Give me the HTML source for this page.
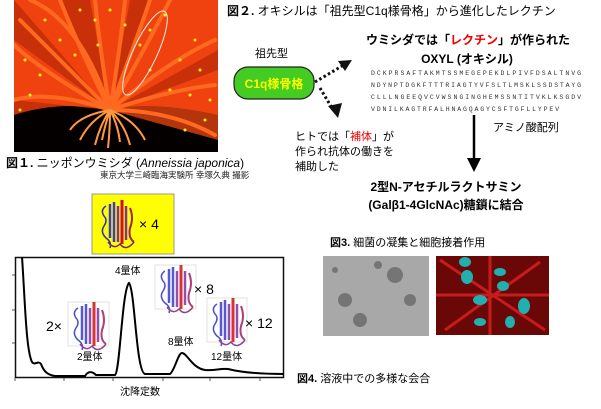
<!DOCTYPE html>
<html><head><meta charset="utf-8"><style>
body{margin:0;width:601px;height:404px;background:#fff;overflow:hidden;font-family:"Liberation Sans","Noto Sans CJK JP",sans-serif;}
svg text{font-family:"Liberation Sans","Noto Sans CJK JP",sans-serif;}
</style></head><body>
<svg width="601" height="404" viewBox="0 0 601 404" xmlns="http://www.w3.org/2000/svg">
<defs>
<g id="prot">
<path d="M6 6 q-6 4 -2 10 q4 4 0 10 q-4 6 2 12 q6 4 4 10" stroke="#3030c0" stroke-width="1.5" fill="none"/>
<path d="M10 4 v34 M14 2 v40" stroke="#3a3ad0" stroke-width="2.5" fill="none"/>
<path d="M18 6 v36 M26 6 v34" stroke="#8030a0" stroke-width="2.5" fill="none"/>
<path d="M22 0 v44" stroke="#d01010" stroke-width="3" fill="none"/>
<path d="M30 8 q4 10 0 20 q-2 10 4 14" stroke="#a02060" stroke-width="2" fill="none"/>
<path d="M8 42 q6 8 12 2 q6 8 14 -2" stroke="#802080" stroke-width="1.5" fill="none"/>
</g>
<clipPath id="pc"><rect x="14" y="0" width="204" height="152"/></clipPath>
</defs>
<!-- photo -->
<rect x="14" y="0" width="204" height="152" fill="#050000"/>
<g clip-path="url(#pc)">
<path d="M14 0 H218 V115 Q150 100 110 110 Q60 100 14 115 Z" fill="#c8300a"/>
<path d="M14 0 L60 0 L110 110 Z M90 0 L130 0 L110 110 Z M150 0 L218 0 L218 50 L110 110 Z M14 40 L14 100 L110 110 Z M218 70 L218 140 L110 110 Z" fill="#ff4a10" opacity=".7"/>
<g stroke="#ff6a20" stroke-width="4" fill="none" stroke-linecap="round">
<path d="M110 110 Q60 60 20 20"/><path d="M110 110 Q80 50 60 0"/><path d="M110 110 Q100 50 95 0"/>
<path d="M110 110 Q120 50 125 0"/><path d="M110 110 Q150 40 170 0"/><path d="M110 110 Q170 60 215 40"/>
<path d="M110 110 Q170 90 215 85"/><path d="M110 110 Q170 110 215 135"/><path d="M110 110 Q50 90 14 100"/>
<path d="M110 110 Q40 70 14 45"/><path d="M110 110 Q140 30 150 0"/><path d="M110 110 Q80 20 30 0"/>
</g>
<g stroke="#ff9a40" stroke-width="2" fill="none">
<path d="M110 110 q-20 10 -30 30"/><path d="M110 110 q-10 15 -15 35"/><path d="M110 110 q0 20 -2 38"/>
<path d="M110 110 q15 15 20 35"/><path d="M110 110 q25 10 35 30"/><path d="M110 110 q-30 5 -40 20"/>
<path d="M110 110 q-5 15 -8 30"/><path d="M110 110 q8 15 10 32"/>
</g>
</g>
<g fill="#ffee20">
<circle cx="45" cy="20" r="1.5"/><circle cx="60" cy="40" r="1.5"/><circle cx="75" cy="55" r="1.5"/><circle cx="95" cy="20" r="1.5"/>
<circle cx="98" cy="45" r="1.5"/><circle cx="125" cy="25" r="1.5"/><circle cx="150" cy="30" r="1.5"/><circle cx="165" cy="15" r="1.5"/>
<circle cx="180" cy="60" r="1.5"/><circle cx="200" cy="70" r="1.5"/><circle cx="190" cy="95" r="1.5"/><circle cx="205" cy="120" r="1.5"/>
<circle cx="30" cy="95" r="1.5"/><circle cx="25" cy="60" r="1.5"/><circle cx="40" cy="75" r="1.5"/><circle cx="170" cy="90" r="1.5"/>
<circle cx="150" cy="70" r="1.5"/><circle cx="140" cy="45" r="1.5"/><circle cx="110" cy="10" r="1.5"/><circle cx="80" cy="10" r="1.5"/>
<circle cx="195" cy="40" r="1.5"/><circle cx="210" cy="100" r="1.5"/><circle cx="20" cy="110" r="1.5"/><circle cx="185" cy="130" r="1.5"/>
</g>
<ellipse cx="145" cy="53" rx="12" ry="46" transform="rotate(25 145 53)" fill="none" stroke="#eee" stroke-width="1"/>
<text x="6" y="167" font-size="12"><tspan font-weight="bold">図１.</tspan> ニッポンウミシダ (<tspan font-style="italic">Anneissia japonica</tspan>)</text>
<text x="100" y="178" font-size="8.5" fill="#222">東京大学三崎臨海実験所 幸塚久典 撮影</text>
<!-- yellow box -->
<rect x="92" y="194" width="82" height="60" fill="#ffff00" stroke="#999"/>
<use href="#prot" x="100" y="200"/>
<text x="139" y="229" font-size="14">× 4</text>
<!-- chart -->
<rect x="15.5" y="257.5" width="268" height="120" fill="none" stroke="#111" stroke-width="1.5"/>
<g stroke="#555" stroke-width="1"><path d="M15 275h-3M15 310h-3M15 343h-3M15 378v3M64 378v3M113 378v3M163 378v3M210 378v3M260 378v3"/></g>
<g opacity=".85">
<rect x="68" y="302" width="41" height="44" fill="#fff" stroke="#ddd"/><use href="#prot" x="72" y="302"/>
<rect x="155" y="265" width="41" height="44" fill="#fff" stroke="#ddd"/><use href="#prot" x="159" y="265"/>
<rect x="207" y="298" width="40" height="44" fill="#fff" stroke="#ddd"/><use href="#prot" x="211" y="298"/>
</g>
<path d="M22 257 C25 300 26 350 32 362 C35 366 38 360 41 364 C44 372 48 375 55 376 L85 376 C88 371 92 371 96 375 L115 375 C120 372 122 290 129 283 C135 290 136 372 145 374 L170 374 C175 370 178 353 182 353 C187 353 192 368 205 370 C215 371 220 368 228 369 C240 372 260 374 284 374" fill="none" stroke="#000" stroke-width="2"/>
<text x="115" y="274" font-size="10">4量体</text>
<text x="77" y="360" font-size="10">2量体</text>
<text x="168" y="345" font-size="10">8量体</text>
<text x="211" y="360" font-size="10">12量体</text>
<text x="46" y="331" font-size="14">2×</text>
<text x="194" y="294" font-size="14">× 8</text>
<text x="245" y="328" font-size="14">× 12</text>
<text x="120" y="395" font-size="10">沈降定数</text>
<!-- fig2 -->
<text x="227" y="15" font-size="12"><tspan font-weight="bold">図２.</tspan> オキシルは「祖先型C1q様骨格」から進化したレクチン</text>
<text x="255" y="57" font-size="11">祖先型</text>
<rect x="234" y="67" width="80" height="32" rx="14" fill="#44cc22" stroke="#222" stroke-width="1.2"/>
<text x="274" y="88" font-size="12" font-weight="bold" fill="#ffff00" text-anchor="middle">C1q様骨格</text>
<g stroke="#111" stroke-width="3" stroke-dasharray="2.5 2.5" fill="none"><path d="M315 82 L342 66"/><path d="M320 88 L332 108"/></g>
<path d="M352 60 L338 61 L345 71 Z" fill="#111"/>
<path d="M338 118 L328 106 L342 103 Z" fill="#111"/>
<text x="295" y="140" font-size="11">ヒトでは「<tspan fill="#e00">補体</tspan>」が</text>
<text x="295" y="155" font-size="11">作られ抗体の働きを</text>
<text x="295" y="170" font-size="11">補助した</text>
<text x="468" y="44" font-size="12" font-weight="bold" text-anchor="middle">ウミシダでは「<tspan fill="#e00">レクチン</tspan>」が作られた</text>
<text x="467" y="63" font-size="12" font-weight="bold" text-anchor="middle">OXYL (オキシル)</text>
<g font-size="6.5" fill="#333">
<text x="371" y="75" textLength="210" style="font-family:'Liberation Mono',monospace">DCKPRSAFTAKMTSSMEGEPEKDLPIVFDSALTNVG</text>
<text x="371" y="87" textLength="210" style="font-family:'Liberation Mono',monospace">NDYNPTDGKFTTTRIAGTYVFSLTLMSKLSSDSTAYG</text>
<text x="371" y="99" textLength="210" style="font-family:'Liberation Mono',monospace">CLLLNGEEQVCVWSNGINGHEMSSNTITVKLKSGDV</text>
<text x="371" y="111" textLength="188" style="font-family:'Liberation Mono',monospace">VDNILKAGTRFALHNAGQAGYCSFTGFLLYPEV</text>
</g>
<path d="M474 115 V160" stroke="#000" stroke-width="2.5"/>
<path d="M467 158 L481 158 L474 172 Z" fill="#000"/>
<text x="493" y="131" font-size="11">アミノ酸配列</text>
<text x="446" y="191" font-size="12" font-weight="bold" text-anchor="middle">2型N-アセチルラクトサミン</text>
<text x="446" y="209" font-size="12" font-weight="bold" text-anchor="middle">(Galβ1-4GlcNAc)糖鎖に結合</text>
<!-- fig3 -->
<text x="330" y="246" font-size="11"><tspan font-weight="bold">図3.</tspan> 細菌の凝集と細胞接着作用</text>
<rect x="323" y="256" width="106" height="80" fill="#a8a8a8"/>
<g fill="#444" opacity=".5"><circle cx="345" cy="300" r="7"/><circle cx="395" cy="275" r="8"/><circle cx="410" cy="300" r="6"/><circle cx="360" cy="320" r="7"/><circle cx="378" cy="265" r="4"/><circle cx="335" cy="270" r="3"/></g>
<rect x="436" y="256" width="113" height="79" fill="#6a0808"/>
<g stroke="#e02020" stroke-width="3" fill="none" opacity=".8"><path d="M440 260 L545 330 M445 330 L540 262 M436 295 H549 M490 256 V335"/></g>
<g fill="#20b0b0"><ellipse cx="465" cy="262" rx="6" ry="5"/><ellipse cx="467" cy="277" rx="6" ry="7"/><ellipse cx="500" cy="272" rx="6" ry="4"/><ellipse cx="503" cy="286" rx="6" ry="5"/><ellipse cx="480" cy="300" rx="7" ry="5"/><ellipse cx="524" cy="306" rx="6" ry="8"/><ellipse cx="480" cy="322" rx="6" ry="4"/><ellipse cx="510" cy="322" rx="5" ry="6"/></g>
<text x="297" y="382" font-size="11"><tspan font-weight="bold">図4.</tspan> 溶液中での多様な会合</text>
</svg>
</body></html>
